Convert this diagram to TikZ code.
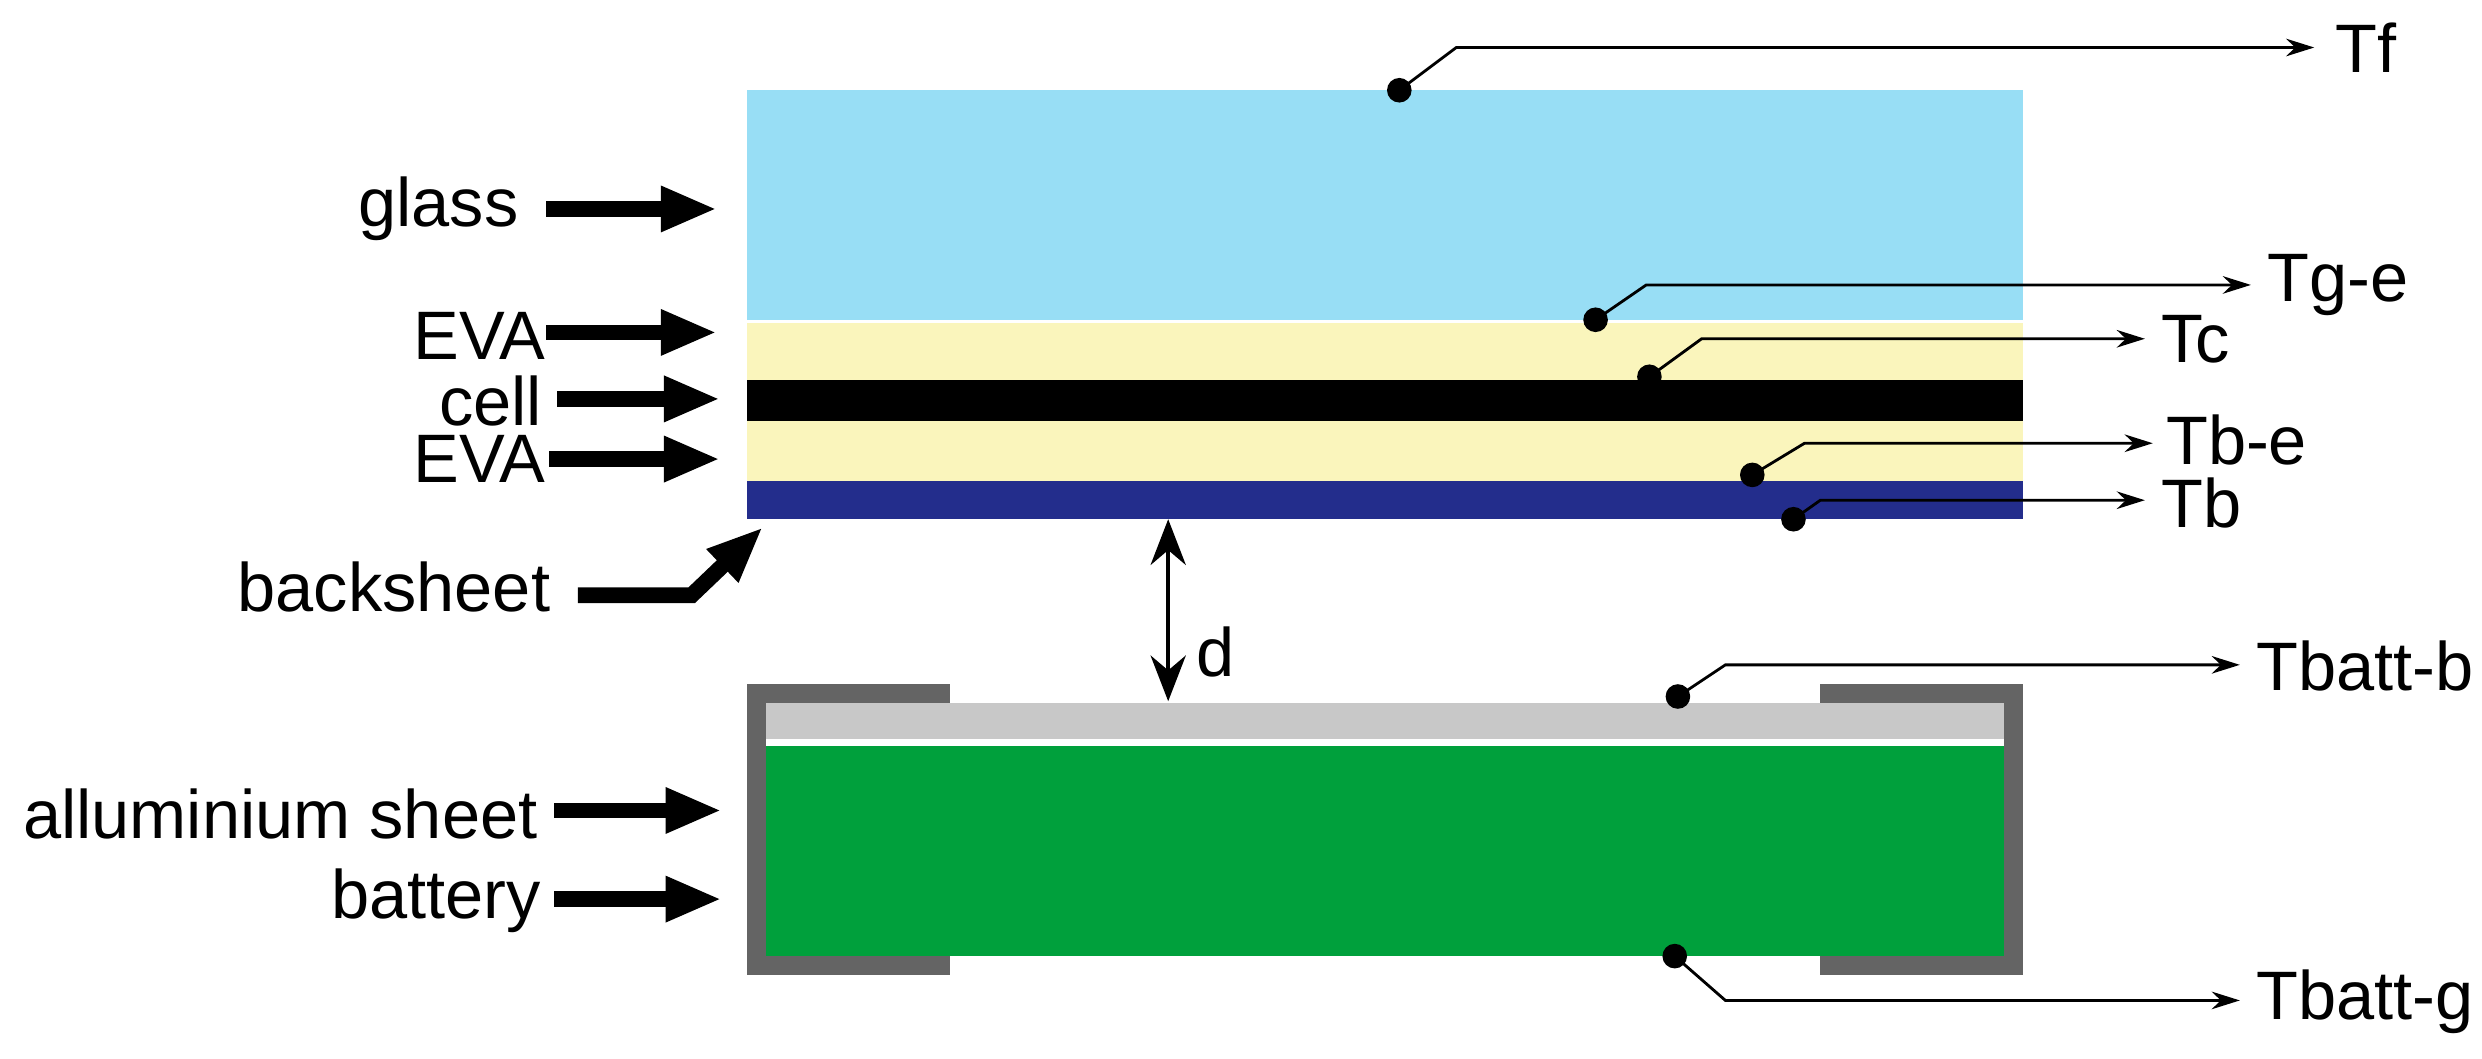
\documentclass[tikz,border=0pt]{standalone}
\usepackage{fontspec}
\setmainfont{Liberation Sans}
\usetikzlibrary{arrows.meta}
\definecolor{glassc}{RGB}{152,222,245}
\definecolor{evac}{RGB}{250,245,188}
\definecolor{backc}{RGB}{35,45,140}
\definecolor{framec}{RGB}{100,100,100}
\definecolor{alc}{RGB}{200,200,200}
\definecolor{battc}{RGB}{0,160,60}
\tikzset{
  lbl/.style={font=\fontsize{19.5}{23}\selectfont, inner sep=0pt},
  big/.style={line width=4.5pt, -{Triangle[length=16pt,width=12pt]}},
  lead/.style={line width=0.8pt, -{Stealth[length=8pt,width=5pt]}},
  dotc/.style={circle, fill=black, inner sep=0pt, minimum size=7pt},
}
\begin{document}
\begin{tikzpicture}[x=0.01583cm,y=-0.01583cm]
\useasboundingbox (0,0) rectangle (1568,669);
% module layers
\fill[glassc] (472,57) rectangle (1278,202);
\fill[evac] (472,204) rectangle (1278,240);
\fill[black] (472,240) rectangle (1278,266);
\fill[evac] (472,266) rectangle (1278,304);
\fill[backc] (472,304) rectangle (1278,328);
% battery
\fill[framec] (472,432) rectangle (600,444);
\fill[framec] (472,432) rectangle (484,616);
\fill[framec] (472,604) rectangle (600,616);
\fill[framec] (1150,432) rectangle (1278,444);
\fill[framec] (1266,432) rectangle (1278,616);
\fill[framec] (1150,604) rectangle (1278,616);
\fill[alc] (484,444) rectangle (1266,467);
\fill[battc] (484,471) rectangle (1266,604);
% d
\coordinate (dtop) at (738,328);
\coordinate (dbot) at (738,443);
\draw[line width=1.2pt, {Stealth[length=13pt,width=10pt]}-{Stealth[length=13pt,width=10pt]}] (dtop) -- (dbot);
\node[lbl] (d) at (768,412) {d};
% left labels
\node[lbl, anchor=east] (glass) at (328,132) {glass};
\node[lbl, anchor=east] (eva1) at (345,212) {EVA};
\node[lbl, anchor=east] (cell) at (343,253) {cell};
\node[lbl, anchor=east] (eva2) at (345,290) {EVA};
\node[lbl, anchor=east] (back) at (348,371) {backsheet};
\node[lbl, anchor=east] (al) at (340,514) {alluminium sheet};
\node[lbl, anchor=east] (batt) at (342,569) {battery};
\coordinate (sglass) at (345,132);
\coordinate (seva1) at (345,210);
\coordinate (scell) at (352,252);
\coordinate (seva2) at (347,290);
\coordinate (sback) at (365,376);
\coordinate (sal) at (350,512);
\coordinate (sbatt) at (350,568);
\coordinate (aglass) at (453,132);
\coordinate (aeva1) at (453,210);
\coordinate (acell) at (455,252);
\coordinate (aeva2) at (455,290);
\coordinate (aback) at (482,333);
\coordinate (aal) at (456,512);
\coordinate (abatt) at (456,568);
\draw[big] (sglass) -- (aglass);
\draw[big] (seva1) -- (aeva1);
\draw[big] (scell) -- (acell);
\draw[big] (seva2) -- (aeva2);
\draw[big] (sback) -- (437,376) -- (aback);
\draw[big] (sal) -- (aal);
\draw[big] (sbatt) -- (abatt);
% right leaders
\node[dotc] (pf) at (884,57) {};
\node[dotc] (pge) at (1008,202) {};
\node[dotc] (pc) at (1042,238) {};
\node[dotc] (pbe) at (1107,300) {};
\node[dotc] (pb) at (1133,328) {};
\node[dotc] (pbb) at (1060,440) {};
\node[dotc] (pbg) at (1058,604) {};
\node[lbl, anchor=west] (Tf) at (1475,30) {Tf};
\node[lbl, anchor=west] (Tge) at (1432,180) {Tg-e};
\node[lbl, anchor=west] (Tc) at (1365,214) {Tc};
\node[lbl, anchor=west] (Tbe) at (1368,278) {Tb-e};
\node[lbl, anchor=west] (Tb) at (1365,318) {Tb};
\node[lbl, anchor=west] (Tbb) at (1425,421) {Tbatt-b};
\node[lbl, anchor=west] (Tbg) at (1425,633) {Tbatt-g};
\draw[lead] (pf.center) -- (920,30) -- (1462,30);
\draw[lead] (pge.center) -- (1040,180) -- (1422,180);
\draw[lead] (pc.center) -- (1075,214) -- (1355,214);
\draw[lead] (pbe.center) -- (1140,280) -- (1360,280);
\draw[lead] (pb.center) -- (1150,316) -- (1355,316);
\draw[lead] (pbb.center) -- (1090,420) -- (1415,420);
\draw[lead] (pbg.center) -- (1090,632) -- (1415,632);
\end{tikzpicture}
\end{document}
